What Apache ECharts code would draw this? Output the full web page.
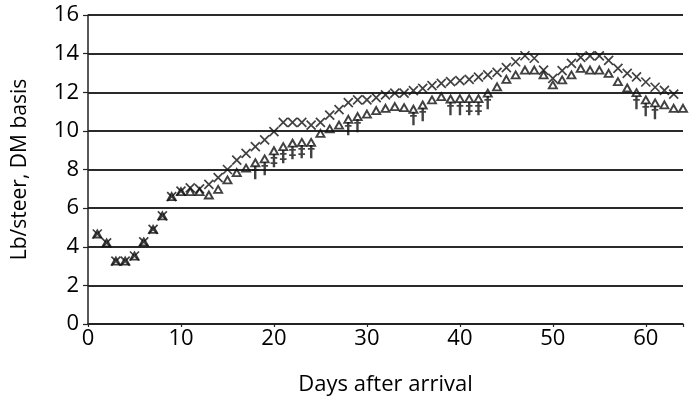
<!DOCTYPE html>
<html>
<head>
<meta charset="utf-8">
<script src="https://cdn.jsdelivr.net/npm/echarts@6/dist/echarts.min.js"></script>
<style>
html,body{margin:0;padding:0;background:#fff;}
#chart{width:700px;height:403px;}
</style>
</head>
<body>
<div id="chart"></div>
<script>
const days = [];
for (let d = 1; d <= 64; d++) days.push(d);

const crossValues = [
  4.66, 4.2, 3.26, 3.26, 3.52, 4.25, 4.9, 5.6, 6.6, 6.88,
  7.05, 7.0, 7.23, 7.58, 8.0, 8.49, 8.84, 9.18, 9.53, 9.96,
  10.44, 10.44, 10.44, 10.3, 10.44, 10.82, 11.1, 11.46, 11.6, 11.6,
  11.72, 11.86, 11.95, 11.95, 12.08, 12.2, 12.34, 12.46, 12.55, 12.6,
  12.67, 12.78, 12.9, 13.03, 13.27, 13.58, 13.89, 13.76, 13.15, 12.72,
  13.12, 13.5, 13.81, 13.88, 13.88, 13.65, 13.24, 12.98, 12.8, 12.53,
  12.26, 12.1, 11.9, null
];

const triangleValues = [
  4.66, 4.2, 3.26, 3.26, 3.52, 4.25, 4.9, 5.6, 6.6, 6.85,
  6.85, 6.85, 6.68, 6.97, 7.46, 7.84, 8.07, 8.35, 8.55, 8.97,
  9.18, 9.36, 9.4, 9.4, 9.87, 10.1, 10.3, 10.6, 10.74, 10.87,
  11.05, 11.17, 11.26, 11.2, 11.12, 11.34, 11.6, 11.77, 11.65, 11.67,
  11.67, 11.67, 11.95, 12.28, 12.67, 12.9, 13.15, 13.15, 12.9, 12.38,
  12.64, 12.9, 13.24, 13.15, 13.15, 12.98, 12.55, 12.22, 11.98, 11.6,
  11.45, 11.35, 11.17, 11.17
];

const singleDaggerDays = [18, 19, 24, 28, 29, 35, 36, 39, 40, 43, 59, 60, 61];
const doubleDaggerDays = [20, 21, 22, 23, 41, 42];

const yTicks = [0, 2, 4, 6, 8, 10, 12, 14, 16];
const xTicks = [0, 10, 20, 30, 40, 50, 60];

const crossData = days.map((d, i) => [d, crossValues[i]]).filter(p => p[1] !== null);
const triData = days.map((d, i) => [d, triangleValues[i]]);
const daggerData = []
  .concat(singleDaggerDays.map(d => ({ value: [d, triangleValues[d - 1]], mark: '\u2020' })))
  .concat(doubleDaggerDays.map(d => ({ value: [d, triangleValues[d - 1]], mark: '\u2021' })));

const font = '"Open Sans", "Noto Sans", sans-serif';

const chart = echarts.init(document.getElementById('chart'), null, { renderer: 'canvas' });
chart.setOption({
  animation: false,
  backgroundColor: '#ffffff',
  grid: { left: 88, right: 17, top: 15, bottom: 79, containLabel: false },
  xAxis: {
    type: 'value', min: 0, max: 64, interval: 10,
    name: 'Days after arrival', nameLocation: 'middle', nameGap: 50,
    nameTextStyle: { fontFamily: font, fontSize: 22, color: '#000' },
    axisLine: { show: true, lineStyle: { color: '#222', width: 1.5 } },
    axisTick: { show: true, length: 3, lineStyle: { color: '#222', width: 1.2 } },
    axisLabel: {
      fontFamily: font, fontSize: 22, color: '#000', margin: 4,
      formatter: v => (xTicks.indexOf(v) >= 0 ? String(v) : '')
    },
    splitLine: { show: false }
  },
  yAxis: {
    type: 'value', min: 0, max: 16, interval: 2,
    name: 'Lb/steer, DM basis', nameLocation: 'middle', nameGap: 57,
    nameTextStyle: { fontFamily: font, fontSize: 21, color: '#000' },
    axisLine: { show: true, lineStyle: { color: '#222', width: 1.5 } },
    axisTick: { show: true, length: 5, lineStyle: { color: '#222', width: 1.2 } },
    axisLabel: {
      fontFamily: font, fontSize: 22, color: '#000', margin: 9,
      formatter: v => (yTicks.indexOf(v) >= 0 ? String(v) : '')
    },
    splitLine: { show: true, lineStyle: { color: '#2a2a2a', width: 1.8 } }
  },
  series: [
    {
      type: 'scatter', name: 'triangle', data: triData, z: 2,
      symbol: 'triangle', symbolSize: [8, 7],
      itemStyle: { color: 'rgba(255,255,255,0)', borderColor: '#111', borderWidth: 1.9 }
    },
    {
      type: 'scatter', name: 'cross', data: crossData, z: 3,
      symbol: 'path://M0,0L10,10M10,0L0,10', symbolSize: 9,
      itemStyle: { color: 'rgba(255,255,255,0)', borderColor: '#111', borderWidth: 1.7 }
    },
    {
      type: 'scatter', name: 'dagger', data: daggerData, z: 4,
      symbolSize: 1, itemStyle: { color: 'rgba(255,255,255,0)' },
      label: {
        show: true, position: 'bottom', distance: 3,
        formatter: p => p.data.mark,
        fontFamily: '"DejaVu Sans", sans-serif', fontSize: 15, color: '#111', fontWeight: 'bold'
      }
    }
  ]
});
</script>
</body>
</html>
